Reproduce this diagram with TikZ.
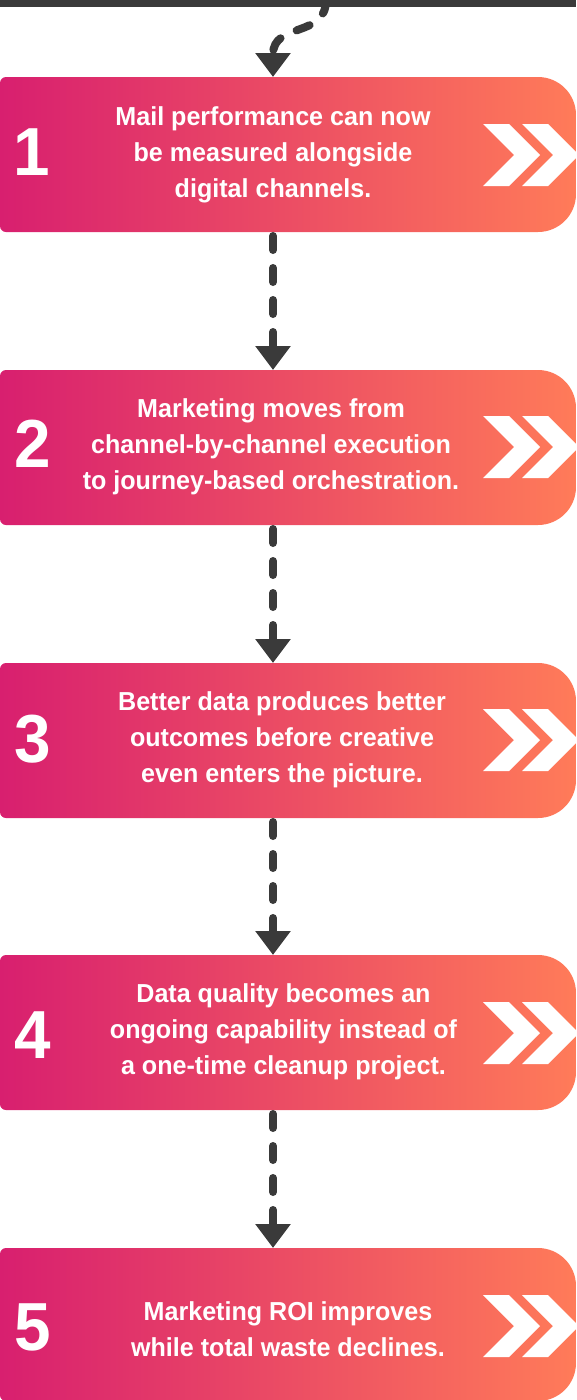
\documentclass[tikz,border=0pt]{standalone}
\usepackage{fontspec}
\setmainfont{Liberation Sans}[FakeStretch=0.965]
\usetikzlibrary{arrows.meta}
\definecolor{gradL}{RGB}{216,31,111}
\definecolor{gradR}{RGB}{255,123,89}
\definecolor{ink}{RGB}{58,58,58}
\tikzset{
  conn/.style={draw=ink, line width=8pt, line cap=round, dash pattern=on 14pt off 18pt,
    -{Triangle[length=24pt,width=34pt]}},
  bodytext/.style={text=white, font=\fontsize{26}{36}\selectfont\bfseries, align=center, inner sep=0pt},
  numtext/.style={text=white, font=\fontsize{68}{68}\selectfont\bfseries, inner sep=0pt},
  chev/.style={fill=white},
  card/.style={left color=gradL, right color=gradR},
}
\newcommand\cardbox[2]{%
  \path[card] (6,#1) -- (538,#1) arc[start angle=270,end angle=360,radius=38]
    -- (576,#2-38) arc[start angle=0,end angle=90,radius=38]
    -- (6,#2) arc[start angle=90,end angle=180,radius=6]
    -- (0,#1+6) arc[start angle=180,end angle=270,radius=6] -- cycle;}
\newcommand\chevpair[1]{%
  \path[chev] (483,#1-31) -- (509,#1-31) -- (540,#1) -- (509,#1+31) -- (483,#1+31) -- (514,#1) -- cycle;
  \path[chev] (522,#1-31) -- (548,#1-31) -- (579,#1) -- (548,#1+31) -- (522,#1+31) -- (553,#1) -- cycle;}
\begin{document}
\begin{tikzpicture}[x=1pt,y=-1pt]
\useasboundingbox (0,0) rectangle (576,1400);
\begin{scope}
\clip (0,0) rectangle (576,1400);
% cards
\cardbox{77}{232}
\cardbox{370}{525}
\cardbox{663}{818}
\cardbox{955}{1110}
\cardbox{1248}{1401}
\chevpair{155}
\chevpair{447}
\chevpair{740}
\chevpair{1033}
\chevpair{1326}
\end{scope}
% numbers
\node[numtext] (n1) at (32,152) {1};
\node[numtext] (n2) at (33,444) {2};
\node[numtext] (n3) at (33,739) {3};
\node[numtext] (n4) at (33,1035) {4};
\node[numtext] (n5) at (33,1327) {5};
% texts
\node[bodytext] (t1) at (273,154.5) {Mail performance can now\\be measured alongside\\digital channels.};
\node[bodytext] (t2) at (271,446.5) {Marketing moves from\\channel-by-channel execution\\to journey-based orchestration.};
\node[bodytext] (t3) at (282,740) {Better data produces better\\outcomes before creative\\even enters the picture.};
\node[bodytext] (t4) at (283.5,1032) {Data quality becomes an\\ongoing capability instead of\\a one-time cleanup project.};
\node[bodytext] (t5) at (288,1329.5) {Marketing ROI improves\\while total waste declines.};
% connector anchors
\coordinate (src) at (326,0);
\coordinate (b1n) at (273,77);
\coordinate (b1s) at (273,236);
\coordinate (b2n) at (273,370);
\coordinate (b2s) at (273,529);
\coordinate (b3n) at (273,663);
\coordinate (b3s) at (273,822);
\coordinate (b4n) at (273,955);
\coordinate (b4s) at (273,1114);
\coordinate (b5n) at (273,1248);
\draw[conn] (src) .. controls (326,38) and (273,22) .. (b1n);
\draw[conn] (b1s) -- (b2n);
\draw[conn] (b2s) -- (b3n);
\draw[conn] (b3s) -- (b4n);
\draw[conn] (b4s) -- (b5n);
% top bar
\fill[ink] (0,0) rectangle (576,7);
\end{tikzpicture}
\end{document}
